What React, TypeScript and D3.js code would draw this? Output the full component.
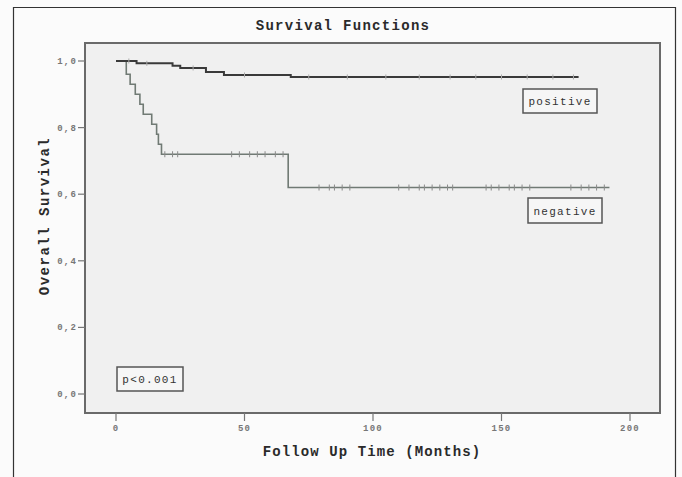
import { useRef, useEffect } from 'react';
import * as d3 from 'd3';

// Kaplan-Meier steps: [months, survival]
const positiveSteps: [number, number][] = [
  [0, 1.0], [8, 0.993], [22, 0.986], [25, 0.979], [35, 0.967], [42, 0.958], [68, 0.952], [180, 0.952],
];
const negativeSteps: [number, number][] = [
  [0, 1.0], [4, 0.96], [5.5, 0.93], [7.5, 0.9], [9.3, 0.87], [10.6, 0.84], [13.9, 0.81],
  [15.8, 0.78], [16.5, 0.75], [17.7, 0.72], [67, 0.62], [192, 0.62],
];
const negativeCensored = [19, 22, 24, 45, 48, 52, 55, 58, 62, 65, 79, 83, 85, 88, 91, 110, 114, 118, 120, 123, 126, 129, 131, 144, 146, 149, 153, 155, 158, 161, 177, 181, 184, 187, 190];
const positiveCensored = [5, 12, 30, 50, 75, 90, 105, 118, 130, 140, 150, 160, 170, 178];
const yTicks = [0, 0.2, 0.4, 0.6, 0.8, 1.0];
const xTicks = [0, 50, 100, 150, 200];

const mono = '"Liberation Mono", "DejaVu Sans Mono", monospace';

function stepValue(steps: [number, number][], t: number) {
  let v = steps[0][1];
  for (const [s, val] of steps) if (s <= t) v = val;
  return v;
}

export default function App() {
  const svgRef = useRef(null);

  useEffect(() => {
    const svg = d3.select(svgRef.current);
    svg.selectAll('*').remove();

    const x = d3.scaleLinear().domain([0, 200]).range([116, 630]);
    const y = d3.scaleLinear().domain([0, 1]).range([394, 61]);
    const plot = { left: 85, right: 660, top: 43, bottom: 413 };

    // outer frame
    svg.append('rect').attr('width', 682).attr('height', 477).attr('fill', '#fbfbfb');
    svg.append('path')
      .attr('d', 'M13.5,477 V7.5 H675.5 V477')
      .attr('fill', 'none').attr('stroke', '#333').attr('stroke-width', 1.2);

    svg.append('text').text('Survival Functions')
      .attr('x', 343).attr('y', 30).attr('text-anchor', 'middle')
      .attr('font-family', mono).attr('font-weight', 'bold').attr('font-size', 14)
      .attr('letter-spacing', 1.3).attr('fill', '#2a2a2a');

    svg.append('rect')
      .attr('x', plot.left).attr('y', plot.top)
      .attr('width', plot.right - plot.left).attr('height', plot.bottom - plot.top)
      .attr('fill', '#f0f0f0').attr('stroke', '#6a6a6a').attr('stroke-width', 2);

    // y axis
    const yg = svg.append('g');
    yTicks.forEach((t) => {
      yg.append('line').attr('x1', plot.left - 7).attr('x2', plot.left)
        .attr('y1', y(t)).attr('y2', y(t)).attr('stroke', '#777').attr('stroke-width', 1.2);
      yg.append('text').text(d3.format('.1f')(t).replace('.', ','))
        .attr('x', plot.left - 8).attr('y', y(t) + 3).attr('text-anchor', 'end')
        .attr('font-family', mono).attr('font-weight', 'bold').attr('font-size', 9)
        .attr('letter-spacing', 1.2).attr('fill', '#777');
    });

    // x axis
    const xg = svg.append('g');
    xTicks.forEach((t) => {
      xg.append('line').attr('x1', x(t)).attr('x2', x(t))
        .attr('y1', plot.bottom).attr('y2', plot.bottom + 8).attr('stroke', '#777').attr('stroke-width', 1.2);
      xg.append('text').text(String(t))
        .attr('x', x(t)).attr('y', plot.bottom + 18).attr('text-anchor', 'middle')
        .attr('font-family', mono).attr('font-weight', 'bold').attr('font-size', 9)
        .attr('letter-spacing', 1.2).attr('fill', '#777');
    });

    svg.append('text').text('Follow Up Time (Months)')
      .attr('x', 372).attr('y', 456).attr('text-anchor', 'middle')
      .attr('font-family', mono).attr('font-weight', 'bold').attr('font-size', 14)
      .attr('letter-spacing', 1.1).attr('fill', '#2a2a2a');
    svg.append('text').text('Overall Survival')
      .attr('transform', 'translate(49,216) rotate(-90)').attr('text-anchor', 'middle')
      .attr('font-family', mono).attr('font-weight', 'bold').attr('font-size', 14)
      .attr('letter-spacing', 1.5).attr('fill', '#2a2a2a');

    const line = d3.line<[number, number]>()
      .x((d) => x(d[0])).y((d) => y(d[1])).curve(d3.curveStepAfter);

    svg.append('path').attr('d', line(negativeSteps))
      .attr('fill', 'none').attr('stroke', '#707a74').attr('stroke-width', 1.6);
    svg.append('path').attr('d', line(positiveSteps))
      .attr('fill', 'none').attr('stroke', '#3a3a3a').attr('stroke-width', 2);

    negativeCensored.forEach((t) => {
      const v = stepValue(negativeSteps, t);
      svg.append('line').attr('x1', x(t)).attr('x2', x(t))
        .attr('y1', y(v) - 3).attr('y2', y(v) + 3).attr('stroke', '#8a8a8a').attr('stroke-width', 1);
    });
    positiveCensored.forEach((t) => {
      const v = stepValue(positiveSteps, t);
      svg.append('line').attr('x1', x(t)).attr('x2', x(t))
        .attr('y1', y(v) - 2.5).attr('y2', y(v) + 2.5).attr('stroke', '#aaa').attr('stroke-width', 1);
    });

    const labelBox = (txt: string, bx: number, by: number, bw: number, bh: number) => {
      svg.append('rect').attr('x', bx).attr('y', by).attr('width', bw).attr('height', bh)
        .attr('fill', '#f6f6f6').attr('stroke', '#555').attr('stroke-width', 1.5);
      svg.append('text').text(txt)
        .attr('x', bx + bw / 2).attr('y', by + bh / 2 + 4).attr('text-anchor', 'middle')
        .attr('font-family', mono).attr('font-size', 11).attr('letter-spacing', 1.3).attr('fill', '#333');
    };
    labelBox('positive', 523, 89, 74, 24);
    labelBox('negative', 528, 198, 74, 25);
    labelBox('p<0.001', 117, 367, 66, 24);
  }, []);

  return (
    <div>
      <svg ref={svgRef} width={682} height={477}
        style={{ position: 'absolute', left: 0, top: 0, display: 'block' }} />
    </div>
  );
}
